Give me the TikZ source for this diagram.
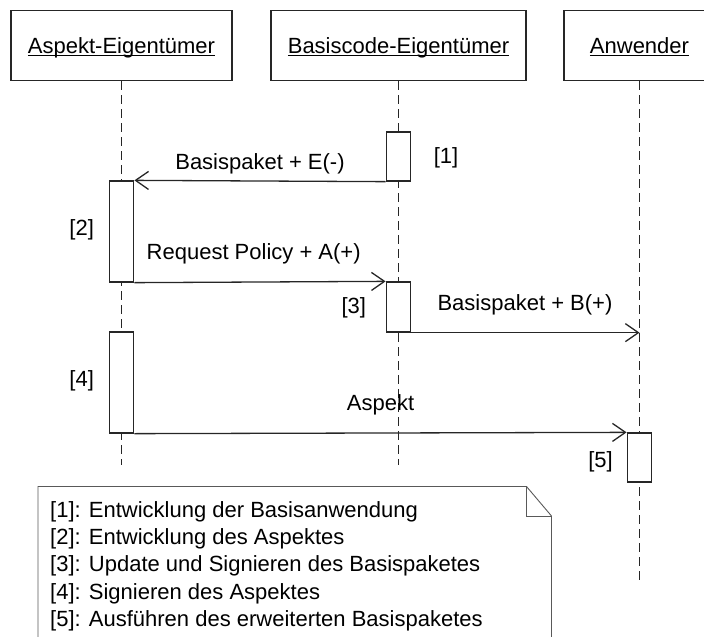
\documentclass[tikz,border=0pt]{standalone}
\usepackage{fontspec}
\setmainfont{Liberation Sans}
\usetikzlibrary{arrows.meta}
\newsavebox\hdbox
\newcommand\hdul[1]{\sbox\hdbox{#1}\rlap{\rule[-3.3pt]{\wd\hdbox}{1.2pt}}\usebox\hdbox}
\begin{document}
\begin{tikzpicture}[x=1pt,y=-1pt,
  hdr/.style={draw=black!85, line width=1.3pt, minimum height=70pt, inner sep=0pt,
    text height=16pt, text depth=1.4pt, font=\fontsize{22}{26}\selectfont},
  act/.style={draw=black!85, fill=white, line width=1.3pt, minimum width=24.5pt, inner sep=0pt},
  life/.style={draw=black!85, line width=1.2pt, dash pattern=on 9pt off 5pt},
  msg/.style={draw=black!85, line width=1.3pt, -{Straight Barb[length=13pt,width=18pt]}},
  lbl/.style={font=\fontsize{22}{26}\selectfont, inner sep=0pt, text=black},
  notec/.style={draw=black!65, line width=0.9pt}]
\path[use as bounding box] (0,0) rectangle (704,637);
\clip (0,0) rectangle (704,637);
% headers
\node[hdr, minimum width=221pt] (h1) at (121.5,45.7) {\hdul{Aspekt-Eigentümer}};
\node[hdr, minimum width=255pt] (h2) at (398.5,45.7) {\hdul{Basiscode-Eigentümer}};
\node[hdr, minimum width=151pt] (h3) at (639.5,45.7) {\hdul{Anwender}};
% lifelines
\coordinate (e1) at (121.5,465);
\coordinate (e2) at (398.5,465);
\coordinate (e3) at (639.5,583);
\draw[life] (h1.south) -- (e1);
\draw[life] (h2.south) -- (e2);
\draw[life] (h3.south) -- (e3);
% activations
\node[act, minimum height=49pt]  (a1) at (398.5,156.5) {};
\node[act, minimum height=101pt] (a2) at (121.5,231.5) {};
\node[act, minimum height=50pt]  (a3) at (398.5,307) {};
\node[act, minimum height=101pt] (a4) at (121.5,382.5) {};
\node[act, minimum height=49pt]  (a5) at (639.5,457.5) {};
% messages
\draw[msg] (a1.south west) -- (a2.north east);
\draw[msg] (a2.south east) -- (a3.north west);
\draw[msg] (a3.south east) -- (a3.south east -| h3.south);
\draw[msg] (a4.south east) -- (a5.north west);
% message labels
\node[lbl, anchor=base] (l1) at (260,169) {Basispaket + E(-)};
\node[lbl, anchor=base] (l2) at (253.7,259) {Request Policy + A(+)};
\node[lbl, anchor=base] (l3) at (525,310.7) {Basispaket + B(+)};
\node[lbl, anchor=base] (l4) at (380.5,410.5) {Aspekt};
% step labels
\node[lbl] (n1) at (446,158) {[1]};
\node[lbl] (n2) at (81.7,230) {[2]};
\node[lbl] (n3) at (353.8,307.5) {[3]};
\node[lbl] (n4) at (81.7,381) {[4]};
\node[lbl] (n5) at (600.5,461.7) {[5]};
% note
\draw[notec] (38,660) -- (38,486.5) -- (526.5,486.5) -- (551.5,516) -- (551.5,660);
\draw[notec] (526.5,486.5) -- (526.5,516) -- (551.5,516);
\node[lbl, anchor=base west, align=left, font=\fontsize{22}{27.4}\selectfont] (leg) at (50,626.6)
  {[1]: Entwicklung der Basisanwendung\\{}%
   [2]: Entwicklung des Aspektes\\{}%
   [3]: Update und Signieren des Basispaketes\\{}%
   [4]: Signieren des Aspektes\\{}%
   [5]: Ausführen des erweiterten Basispaketes};
\end{tikzpicture}
\end{document}
